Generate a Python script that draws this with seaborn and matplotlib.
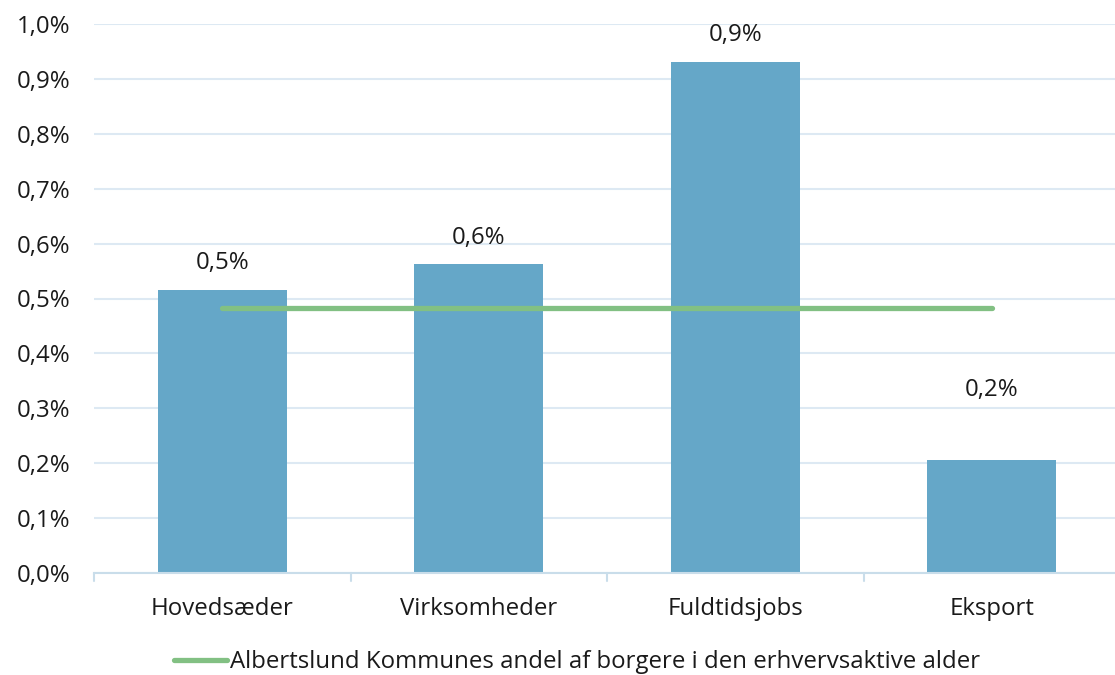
import matplotlib
matplotlib.use("Agg")
import matplotlib.pyplot as plt
import seaborn as sns
import pandas as pd
from matplotlib.lines import Line2D
from matplotlib.ticker import FuncFormatter, FixedLocator

categories = ["Hovedsæder", "Virksomheder", "Fuldtidsjobs", "Eksport"]
values = [0.516, 0.563, 0.931, 0.206]
labels = ["0,5%", "0,6%", "0,9%", "0,2%"]
reference_share = 0.482
legend_label = "Albertslund Kommunes andel af borgere i den erhvervsaktive alder"
yticks = [0.0, 0.1, 0.2, 0.3, 0.4, 0.5, 0.6, 0.7, 0.8, 0.9, 1.0]

sns.set_theme(style="white")
plt.rcParams["font.family"] = ["Open Sans", "DejaVu Sans"]

bar_color = "#65A7C8"
line_color = "#82C083"
grid_color = "#DDE9F3"
text_color = "#1a1a1a"
fs = 17.3

df = pd.DataFrame({"cat": categories, "val": values})

fig = plt.figure(figsize=(11.15, 6.75), dpi=100)
ax = fig.add_axes([94 / 1115, 1 - 573 / 675, (1120 - 94) / 1115, (573 - 24) / 675])

sns.barplot(data=df, x="cat", y="val", color=bar_color, width=0.503,
            saturation=1, ax=ax, zorder=3, linewidth=0, edgecolor="none")

ax.plot([0, len(categories) - 1], [reference_share] * 2, color=line_color,
        lw=3.8, solid_capstyle="round", zorder=4)

ax.set_xlim(-0.5, len(categories) - 0.5)
ax.set_ylim(0, 1.0)
ax.yaxis.set_major_locator(FixedLocator(yticks))
ax.yaxis.set_major_formatter(FuncFormatter(lambda v, p: f"{v:.1f}%".replace(".", ",")))
ax.grid(axis="y", color=grid_color, lw=1.5, zorder=0)
ax.grid(axis="x", visible=False)
for s in ["top", "right", "left"]:
    ax.spines[s].set_visible(False)
ax.spines["bottom"].set_color("#C9DDEA")
ax.spines["bottom"].set_linewidth(1.5)
ax.spines["bottom"].set_zorder(5)

ax.set_xlabel("")
ax.set_ylabel("")
ax.tick_params(axis="y", length=0, pad=17, labelsize=fs, labelcolor=text_color)
ax.tick_params(axis="x", length=0, pad=17, labelsize=fs, labelcolor=text_color)

# category separator ticks
for b in [i - 0.5 for i in range(len(categories) + 1)]:
    ax.plot([b, b], [0, -0.015], color="#C9DDEA", lw=1.5, clip_on=False, zorder=5)

offsets = [19, 19, 19, 50]
for i, (v, lab) in enumerate(zip(values, labels)):
    ax.annotate(lab, (i, v), xytext=(0, offsets[i]), textcoords="offset points",
                ha="center", va="center", fontsize=fs, color=text_color)

handle = Line2D([0], [0], color=line_color, lw=3.8, solid_capstyle="round")
fig.legend([handle], [legend_label], loc="center", bbox_to_anchor=(577 / 1115, 1 - 662 / 675),
           frameon=False, fontsize=fs, handlelength=2.2, handletextpad=0.1,
           labelcolor=text_color)

fig.savefig("out.png", dpi=100)
